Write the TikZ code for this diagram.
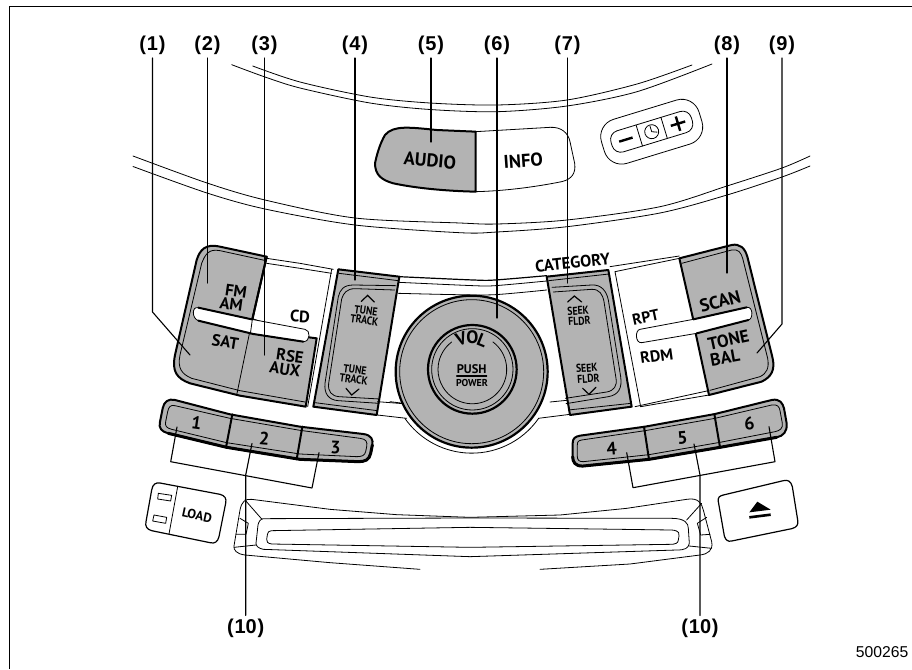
\documentclass[tikz,border=0pt]{standalone}
\usepackage{fontspec}
\setmainfont{Liberation Sans}
\newfontfamily\btnf{PT Sans}
\newfontfamily\btnc[FakeStretch=.85]{PT Sans}
\definecolor{gb}{HTML}{B3B3B3}
\tikzset{
 z1/.style={shift={(140,230)},x=.33333pt,y=-.33333pt},
 z2/.style={shift={(390,230)},x=.33333pt,y=-.33333pt},
 z3/.style={shift={(600,230)},x=.33333pt,y=-.33333pt},
 z4/.style={shift={(370,80)},x=.33333pt,y=-.33333pt},
 z5/.style={shift={(130,440)},x=.33333pt,y=-.33333pt},
 z6/.style={shift={(460,440)},x=.33333pt,y=-.33333pt},
 thn/.style={line width=.8pt,black},
 med/.style={line width=1.2pt,black},
 thk/.style={line width=2pt,black},
 hvy/.style={line width=3pt,black},
 leader/.style={line width=1.1pt,black},
 callout/.style={font=\bfseries\fontsize{20}{20}\selectfont,inner xsep=1pt,inner ysep=3pt},
 btn/.style={font=\btnf\bfseries\fontsize{#1}{#1}\selectfont,inner sep=0pt},
 btc/.style={font=\btnc\bfseries\fontsize{#1}{#1}\selectfont,inner sep=0pt},
}
\newcommand{\ct}[1]{(\kern.8pt#1\kern.8pt)}
\begin{document}
\begin{tikzpicture}[x=1pt,y=-1pt,line join=round,line cap=round]
\useasboundingbox (0,0) rectangle (912,669);
\fill[white] (0,0) rectangle (912,669);
\draw[line width=1.3pt,line cap=butt] (9.7,669) -- (9.7,6.5) -- (912,6.5);

% panel arcs
\draw[thn] plot[smooth] coordinates {(252.7,66)(300,82)(370,97)(430,103)(497,105)(567,100)(637,84)(692,65)};
\draw[thn] plot[smooth] coordinates {(231.7,64.7)(265,77)(300,88)(370,103)(430,109.5)(497,111.7)(567,106)(637,91.7)(712,64)};
\draw[thn] plot[smooth] coordinates {(133,156)(207,183)(265,200)(355,218)(460,223)(497,224)(567,220)(660,206.7)(727,186)(782,168)(810,156)};
\draw[thn] plot[smooth] coordinates {(133,166.5)(207,193)(265,209)(355,225)(460,232.7)(497,232)(567,226.7)(660,213)(727,195)(782,177)(810,166)};

% AUDIO / INFO
\begin{scope}[z4]
\draw[thn] (317,155) -- (540,142) .. controls (575,140) and (595,160) .. (600,185) -- (614,250) .. controls (618,280) and (605,298) .. (575,305) .. controls (490,322) and (400,333) .. (317,335);
\draw[thk,fill=gb] (317,155) -- (200,150) .. controls (120,142) and (70,135) .. (45,165) .. controls (30,190) and (20,225) .. (15,250) .. controls (15,285) and (35,300) .. (70,310) .. controls (140,325) and (230,333) .. (317,335) -- cycle;
\node[btn=18.5,rotate=-5] (audio) at (180,242) {AUDIO};
\node[btn=18.5,rotate=4] (info) at (460,242) {INFO};
\end{scope}

% clock
\begin{scope}[shift={(651.7,131.7)},rotate=17]
\draw[thn,rounded corners=18pt] (-51,-23) rectangle (51,23);
\draw[thn,rounded corners=9pt] (-42,-11) rectangle (42,11);
\draw[thn] (-13,-11) -- (-13,11) (13,-11) -- (13,11);
\draw[line width=2.4pt,line cap=butt] (-34,0) -- (-20,0) (20,0) -- (35,0) (27.5,-7.5) -- (27.5,7.5);
\draw[thn] (0,0) circle (7);
\draw[thn] (0,-6) -- (0,0) -- (5,2);
\end{scope}

% left cluster
\begin{scope}[z1]
\draw[thn] (380,85) -- (480,100) -- (580,118);
\draw[thn] (380,100) -- (480,115) -- (575,130);
\draw[thn] (575,118) -- (503,530);
\draw[thk,fill=gb] (380,80) -- (240,50) .. controls (195,40) and (180,60) .. (170,90) -- (105,375) .. controls (95,425) and (110,445) .. (150,460) -- (300,497) -- (497,530) -- (530,325) -- (507,322) -- (337,268) -- cycle;
\draw[thn] (378,92) -- (240,62) .. controls (205,55) and (195,75) .. (185,100) -- (120,375) .. controls (112,415) and (125,432) .. (155,445) -- (300,482) -- (495,516);
\draw[thn] (337,268) -- (290,495);
\draw[thn,fill=white] (175,233) -- (335,268) -- (495,298) .. controls (512,300) and (512,335) .. (490,335) -- (340,312) -- (175,272) .. controls (155,265) and (155,228) .. (175,233) -- cycle;
\draw[thk] (175,233) -- (335,268);
\draw[thk] (175,272) -- (340,312) -- (490,335);
\draw[thk] (380,80) -- (337,268);
\draw[thn] (337,268) -- (331,312);
\node[btn=16.5,rotate=-8] (fm) at (288,183) {FM};
\node[btn=16.5,rotate=-8] (am) at (274,222) {AM};
\node[btn=16.5,rotate=-9] (sat) at (256,336) {SAT};
\node[btn=16.5,rotate=-3] (cd) at (480,259) {CD};
\node[btn=16.5,rotate=-8] (rse) at (450,378) {RSE};
\node[btn=16.5,rotate=-8] (aux) at (435,418) {AUX};
% button 4
\draw[thk,fill=gb] (595,118) -- (778,140) -- (710,555) -- (520,530) -- cycle;
\draw[thn] (597,130) -- (775,152);
\draw[thn] (525,518) -- (712,542);
\draw[thn] (768,167) -- (640,165) .. controls (610,165) and (600,180) .. (595,200) -- (555,460) .. controls (552,490) and (565,510) .. (595,512) -- (717,520);
\draw[thn] (764,180) -- (645,176) .. controls (620,176) and (610,190) .. (605,207) -- (566,460) .. controls (563,485) and (575,498) .. (597,500) -- (719,507);
\draw[med,line join=miter] (664,214) -- (683,196) -- (703,216);
\draw[med,line join=miter] (618,475) -- (635,495) -- (657,477);
\node[btc=11.5,rotate=-8] (tune1) at (678,242) {TUNE};
\node[btc=11.5,rotate=-8] (track1) at (673,270) {TRACK};
\node[btc=11.5,rotate=-8] (tune2) at (645,419) {TUNE};
\node[btc=11.5,rotate=-8] (track2) at (641,448) {TRACK};
% lines toward the knob
\draw[thn] (712,515) -- (790,521);
\draw[thn] (712,555) -- (800,565);
% preset 1-3
\draw[thk,fill=gb] (105,510) -- (270,553) -- (480,590) -- (670,612) .. controls (695,615) and (700,630) .. (697,645) -- (692,670) .. controls (688,690) and (675,695) .. (655,695) -- (480,688) -- (260,652) -- (85,610) .. controls (65,605) and (55,595) .. (60,575) -- (68,535) .. controls (72,515) and (85,505) .. (105,510) -- cycle;
\draw[hvy] (697,645) -- (692,670) .. controls (688,690) and (675,695) .. (655,695) -- (480,688) -- (260,652) -- (85,610);
\draw[thn] (105,527) -- (270,565) -- (480,601) -- (660,625) .. controls (678,627) and (683,635) .. (680,650) -- (677,665) .. controls (674,677) and (665,680) .. (650,680) -- (480,672) -- (260,638) -- (95,598) .. controls (80,594) and (74,588) .. (77,575) -- (83,545) .. controls (86,530) and (92,524) .. (105,527) -- cycle;
\draw[thk] (277,553) -- (258,652) (487,590) -- (470,688);
\node[btn=18,rotate=-8] (n1) at (170,580) {1};
\node[btn=18,rotate=-5] (n2) at (373,625) {2};
\node[btn=18,rotate=-3] (n3) at (587,652) {3};
\end{scope}

% knob + button 7
\begin{scope}[z2]
\draw[med] plot[smooth] coordinates {(27,140)(250,150)(315,150)(470,137)};
\draw[thn] plot[smooth] coordinates {(27,157)(250,167)(315,167)(470,153)};
\draw[thn] plot[smooth] coordinates {(25,190)(200,194)(315,194)(470,180)};
\draw[thn] (40,520) -- (0,515);
\draw[thn] (540,510) -- (480,516);
\draw[thn] (445,565) -- (540,553);
\draw[thn] (446,565) arc[start angle=35,end angle=145,radius=245];
\draw[line width=2.2pt,fill=gb] (245,425) circle (228);
\draw[thn] (245,425) circle (216);
\draw[line width=2.2pt] (247,418) circle (133);
\draw[thn] (247,418) circle (122);
\draw[thn] (309,336) arc[start angle=-53,end angle=233,radius=103];
\node[btn=18,rotate=18] (v) at (213,326) {V};
\node[btn=18] (o) at (247,322) {O};
\node[btn=18,rotate=-22] (l) at (277,331) {L};
\node[btn=12.5] (push) at (245,418) {PUSH};
\draw[med] (200,438) -- (290,438);
\node[btn=10] (power) at (246,458) {POWER};
% button 7
\draw[thk,fill=gb] (470,140) -- (655,120) -- (725,530) -- (540,555) -- cycle;
\draw[thn] (476,152) -- (657,132);
\draw[thn] (535,540) -- (723,520);
\draw[thn] (486,172) -- (605,165) .. controls (635,163) and (650,185) .. (655,210) -- (692,440) .. controls (697,475) and (685,495) .. (655,500) -- (528,521);
\draw[thn] (490,186) -- (605,178) .. controls (628,177) and (638,193) .. (642,215) -- (678,445) .. controls (682,468) and (672,482) .. (650,486) -- (526,505);
\draw[med,line join=miter] (533,216) -- (553,198) -- (575,216);
\draw[med,line join=miter] (578,475) -- (597,493) -- (618,472);
\node[btc=11.5,rotate=4] (seek1) at (564,242) {SEEK};
\node[btc=11.5,rotate=4] (fldr1) at (568,273) {FLDR};
\node[btc=11.5,rotate=4] (seek2) at (590,414) {SEEK};
\node[btc=11.5,rotate=4] (fldr2) at (595,446) {FLDR};
\node[btn=16.5,rotate=6] (cat) at (548,98) {CATEGORY};
\end{scope}

% right cluster
\begin{scope}[z3]
\draw[thn] (45,125) -- (122,530);
\draw[thn] (45,125) -- (238,85);
\draw[thn] (30,110) -- (238,78);
\draw[thn] (122,530) -- (327,495);
\draw[thn] (105,530) -- (325,482);
\draw[thk,fill=gb] (238,85) -- (395,45) .. controls (420,40) and (435,55) .. (442,80) -- (518,385) .. controls (525,420) and (515,440) .. (485,455) -- (327,495) -- (287,310) -- (280,270) -- cycle;
\draw[thn] (245,100) -- (395,60) .. controls (415,56) and (423,68) .. (428,85) -- (503,385) .. controls (508,415) and (500,430) .. (480,440) -- (330,481);
\draw[thn,fill=white] (120,298) -- (280,268) -- (440,232) .. controls (460,228) and (460,268) .. (445,270) -- (290,310) -- (125,338) .. controls (105,340) and (105,300) .. (120,298) -- cycle;
\draw[thk] (280,268) -- (440,232);
\draw[thk] (290,310) -- (445,270);
\node[btn=18,rotate=15] (scan) at (360,214) {SCAN};
\node[btn=17.5,rotate=12] (tone) at (385,330) {TONE};
\node[btn=17.5,rotate=10] (bal) at (375,384) {BAL};
\node[btn=15.5,rotate=12] (rpt) at (137,261) {RPT};
\node[btn=16,rotate=8] (rdm) at (170,378) {RDM};
% preset 4-6
\draw[thk,fill=gb] (-60,617) -- (135,590) -- (345,552) -- (515,510) .. controls (540,505) and (548,520) .. (552,535) -- (560,580) .. controls (562,605) and (550,618) .. (530,622) -- (360,652) -- (147,688) -- (-50,708) .. controls (-75,710) and (-82,695) .. (-82,680) -- (-82,640) .. controls (-82,625) and (-75,620) .. (-60,617) -- cycle;
\draw[hvy] (530,622) -- (360,652) -- (147,688) -- (-50,708) .. controls (-75,710) and (-82,695) .. (-82,680);
\draw[thn] (-55,630) -- (135,602) -- (345,565) -- (515,525) .. controls (532,522) and (538,530) .. (540,542) -- (547,580) .. controls (549,595) and (540,602) .. (525,605) -- (360,637) -- (147,674) -- (-50,695) .. controls (-62,696) and (-68,690) .. (-68,680) -- (-68,645) .. controls (-68,635) and (-65,632) .. (-55,630) -- cycle;
\draw[thk] (132,590) -- (147,688) (343,552) -- (360,652);
\node[btn=18,rotate=5] (n4) at (35,655) {4};
\node[btn=18,rotate=5] (n5) at (247,625) {5};
\node[btn=18,rotate=8] (n6) at (448,582) {6};
\end{scope}

% load and slot
\begin{scope}[z5]
\draw[med] (90,129) -- (270,163) .. controls (285,167) and (290,175) .. (287,190) -- (267,290) .. controls (263,305) and (255,312) .. (240,308) -- (65,272) .. controls (50,268) and (45,258) .. (48,245) -- (65,150) .. controls (68,132) and (78,127) .. (90,129) -- cycle;
\draw[thn] (143,140) -- (117,282);
\draw[thn] (85,160) -- (125,166) -- (122,183) -- (83,177) -- cycle;
\draw[thn] (72,225) -- (110,232) -- (107,250) -- (68,243) -- cycle;
\node[btn=13,rotate=-12] (load) at (201,226) {LOAD};
% slot outer
\draw[thn] (870,388) -- (600,368) -- (345,345) .. controls (320,342) and (310,330) .. (312,318) -- (330,210) .. controls (335,185) and (345,176) .. (365,178) -- (600,208) -- (800,224) -- (1020,232) -- (1290,225) -- (1490,205) -- (1670,178) .. controls (1705,172) and (1715,190) .. (1720,210) -- (1745,305) .. controls (1750,330) and (1735,342) .. (1710,345) -- (1500,372) -- (1230,388);
% frame
\draw[thn] (400,236) -- (1020,234) -- (1625,235) .. controls (1665,235) and (1675,250) .. (1675,265) -- (1678,310) .. controls (1675,325) and (1665,330) .. (1640,330) -- (1020,350) -- (400,328) .. controls (385,325) and (378,318) .. (378,310) -- (384,255) .. controls (386,245) and (392,236) .. (400,236) -- cycle;
% slot
\draw[thn] (425,272) -- (1020,262) -- (1625,270) .. controls (1650,272) and (1648,282) .. (1647,288) -- (1645,300) .. controls (1645,310) and (1635,313) .. (1620,313) -- (1020,322) -- (425,312) .. controls (412,310) and (410,305) .. (410,298) -- (412,285) .. controls (414,275) and (418,272) .. (425,272) -- cycle;
% left details
\draw[thn] (345,180) -- (396,238);
\draw[thn] (312,322) -- (378,315);
\draw[thn] (330,235) -- (355,250) -- (348,283) -- (318,283);
% right details
\draw[thn] (1715,190) -- (1670,240);
\draw[thn] (1745,325) -- (1678,318);
\draw[thn] (1730,232) -- (1702,250) -- (1712,285) -- (1740,283);
\end{scope}

% eject
\begin{scope}[z6]
\draw[med] (790,165) -- (970,122) .. controls (985,118) and (993,125) .. (997,140) -- (1013,240) .. controls (1016,255) and (1010,262) .. (995,266) -- (815,303) .. controls (803,306) and (797,300) .. (793,288) -- (775,185) .. controls (773,172) and (778,168) .. (790,165) -- cycle;
\end{scope}
\begin{scope}[z3]
\fill (448,847) -- (512,839) -- (472,815) -- cycle;
\draw[line width=2.6pt,line cap=butt] (448,862) -- (512,854);
\end{scope}

% callouts
\node[callout] (l1) at (152.5,45.5) {\ct{1}};
\node[callout] (l2) at (207.5,45.5) {\ct{2}};
\node[callout] (l3) at (264.5,45.5) {\ct{3}};
\node[callout] (l4) at (355,45.5) {\ct{4}};
\node[callout] (l5) at (431,45.5) {\ct{5}};
\node[callout] (l6) at (497,45.5) {\ct{6}};
\node[callout] (l7) at (567.5,45.5) {\ct{7}};
\node[callout] (l8) at (727,45.5) {\ct{8}};
\node[callout] (l9) at (782,45.5) {\ct{9}};
\node[callout] (l10a) at (245.7,628) {\ct{10}};
\node[callout] (l10b) at (700,628) {\ct{10}};
\node[inner sep=0,font=\fontsize{15.7}{15.7}\selectfont,anchor=east] (code) at (908.5,652) {500265};

\coordinate (k1) at (152.5,312); \coordinate (e1) at (190,355);
\coordinate (e2) at (207.5,283);
\coordinate (e3) at (264.5,355);
\coordinate (e4) at (355,280);
\coordinate (e5) at (431,142);
\coordinate (e6) at (497,318);
\coordinate (e7) at (567.5,283);
\coordinate (e8) at (727,273);
\coordinate (k9) at (782,324); \coordinate (e9) at (757,353);
\coordinate (k10a) at (245.7,475); \coordinate (e10a) at (252,443.5);
\coordinate (k10b) at (700,475); \coordinate (e10b) at (694,444);
\coordinate (b1a) at (177,427); \coordinate (b1b) at (170.7,461.7); \coordinate (b1c) at (312,488); \coordinate (b1d) at (319,452.7);
\coordinate (b2a) at (626.7,452.7); \coordinate (b2b) at (633,487.7); \coordinate (b2c) at (775,461.7); \coordinate (b2d) at (769,426.7);

\draw[leader] (l1.south) -- (k1) -- (e1);
\draw[leader] (l2.south) -- (e2);
\draw[leader] (l3.south) -- (e3);
\draw[leader] (l4.south) -- (e4);
\draw[leader] (l5.south) -- (e5);
\draw[leader] (l6.south) -- (e6);
\draw[leader] (l7.south) -- (e7);
\draw[leader] (l8.south) -- (e8);
\draw[leader] (l9.south) -- (k9) -- (e9);
\draw[leader] (l10a.north) -- (k10a) -- (e10a);
\draw[leader] (l10b.north) -- (k10b) -- (e10b);
\draw[leader] (b1a) -- (b1b) -- (b1c) -- (b1d);
\draw[leader] (b2a) -- (b2b) -- (b2c) -- (b2d);
\end{tikzpicture}
\end{document}
